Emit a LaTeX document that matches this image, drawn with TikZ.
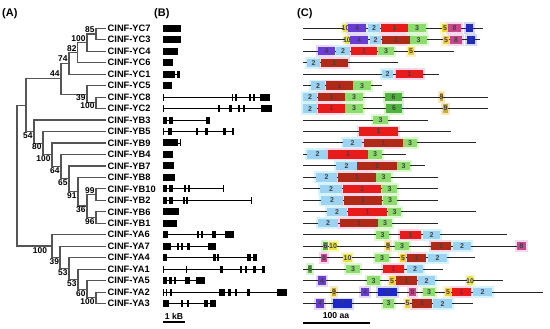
\documentclass[tikz,border=0pt]{standalone}
\usepackage{fontspec}
\setmainfont{Liberation Sans}
\pgfdeclarelayer{background}
\pgfsetlayers{background,main}
\definecolor{treeg}{HTML}{555555}
\definecolor{mR}{HTML}{E81B1B}\definecolor{hR}{HTML}{FBD6E8}
\definecolor{mD}{HTML}{B02A18}\definecolor{hD}{HTML}{FBD6E8}
\definecolor{mL}{HTML}{9CD2F2}\definecolor{hL}{HTML}{D6F4FB}
\definecolor{mG}{HTML}{8CDC6E}\definecolor{hG}{HTML}{E0F7D4}
\definecolor{mP}{HTML}{6A3CD6}\definecolor{hP}{HTML}{E2DAF7}
\definecolor{mY}{HTML}{F0D232}\definecolor{hY}{HTML}{FAF4C8}
\definecolor{mK}{HTML}{50B43C}\definecolor{hK}{HTML}{D8F2D0}
\definecolor{mB}{HTML}{1E28C8}\definecolor{hB}{HTML}{D6D9F5}
\definecolor{mM}{HTML}{C8468C}\definecolor{hM}{HTML}{F8D8EC}
\definecolor{mO}{HTML}{D2AA28}\definecolor{hO}{HTML}{F5E8C0}
\definecolor{mT}{HTML}{EBE63C}\definecolor{hT}{HTML}{F8F7C8}
\newcommand\RY[1]{28.3+11.47*(#1)}
\tikzset{
  tline/.style={draw=treeg, line width=1.2pt},
  leaf/.style={anchor=west, inner sep=1.5pt, font=\bfseries\fontsize{9.3}{10}\selectfont},
  bsv/.style={inner sep=0.3pt, font=\bfseries\fontsize{8.4}{9}\selectfont},
  gline/.style={draw=black, line width=0.9pt},
  exon/.style={fill=black},
  cline/.style={draw=black!85, line width=1pt},
  mlab/.style={inner sep=0pt, font=\bfseries\fontsize{7}{8}\selectfont, text=black!75},
  panel/.style={anchor=west, inner sep=0pt, font=\bfseries\fontsize{11}{12}\selectfont},
  scl/.style={inner sep=0pt, font=\bfseries\fontsize{8.6}{9}\selectfont},
}
\newcommand\gene[3]{%
  \draw[gline] (163,{\RY{#1}}) -- (#2,{\RY{#1}});
  \foreach \a/\b in {#3} {\fill[exon] (\a,{\RY{#1}-3.5}) rectangle (\b,{\RY{#1}+3.5});}
}
\newcommand\prot[2]{\draw[cline] (303,{\RY{#1}}) -- (#2,{\RY{#1}});}
\newcommand\motif[5]{%
  \begin{pgfonlayer}{background}
    \fill[h#4] ({#1-2},{\RY{#3}-6}) rectangle ({#2+2},{\RY{#3}+6});
  \end{pgfonlayer}
  \fill[m#4] (#1,{\RY{#3}-4.2}) rectangle (#2,{\RY{#3}+4.2});
  \node[mlab] at ({(#1+#2)/2},{\RY{#3}}) {#5};
}
\begin{document}
\begin{tikzpicture}[x=1pt,y=-1pt]
\useasboundingbox (0,0) rectangle (550,329);
% panel labels
\node[panel] (pA) at (2,14) {(A)};
\node[panel] (pB) at (154,14) {(B)};
\node[panel] (pC) at (297,14) {(C)};
% leaves
\foreach \n [count=\i from 0] in {YC7,YC3,YC4,YC6,YC1,YC5,YC8,YC2,YB3,YB5,YB9,YB4,YB7,YB8,YB10,YB2,YB6,YB1,YA6,YA7,YA4,YA1,YA5,YA2,YA3}
  \node[leaf] (L\i) at (106,{\RY{\i}}) {CINF-\n};
% internal nodes
\coordinate (c1) at (96,34.03);
\coordinate (c2) at (87,42.64);
\coordinate (c3) at (77.5,52.67);
\coordinate (c4) at (69,63.43);
\coordinate (c5) at (96,102.86);
\coordinate (c6) at (87,94.25);
\coordinate (c7) at (61,78.84);
\coordinate (b9) at (96,194.62);
\coordinate (b8) at (96,217.56);
\coordinate (b7) at (87,206.09);
\coordinate (b6) at (78,191.75);
\coordinate (b5) at (69,178.85);
\coordinate (b4) at (61,166.66);
\coordinate (b3) at (52,154.83);
\coordinate (b2) at (43,143.18);
\coordinate (b1) at (34,131.62);
\coordinate (bc) at (26,105.23);
\coordinate (a6) at (96,297.85);
\coordinate (a5) at (87,289.24);
\coordinate (a4) at (78,279.21);
\coordinate (a3) at (69,268.45);
\coordinate (a2) at (60,257.34);
\coordinate (a1) at (52,246.05);
\coordinate (rt) at (17,175.64);
\draw[tline] (c1) |- (L0.west) (c1) |- (L1.west) (c2) |- (c1) (c2) |- (L2.west)
  (c3) |- (c2) (c3) |- (L3.west) (c4) |- (c3) (c4) |- (L4.west)
  (c5) |- (L6.west) (c5) |- (L7.west) (c6) |- (L5.west) (c6) |- (c5)
  (c7) |- (c4) (c7) |- (c6);
\draw[tline] (b9) |- (L14.west) (b9) |- (L15.west) (b8) |- (L16.west) (b8) |- (L17.west)
  (b7) |- (b9) (b7) |- (b8) (b6) |- (L13.west) (b6) |- (b7) (b5) |- (L12.west) (b5) |- (b6)
  (b4) |- (L11.west) (b4) |- (b5) (b3) |- (L10.west) (b3) |- (b4) (b2) |- (L9.west) (b2) |- (b3)
  (b1) |- (L8.west) (b1) |- (b2) (bc) |- (c7) (bc) |- (b1);
\draw[tline] (a6) |- (L23.west) (a6) |- (L24.west) (a5) |- (L22.west) (a5) |- (a6)
  (a4) |- (L21.west) (a4) |- (a5) (a3) |- (L20.west) (a3) |- (a4) (a2) |- (L19.west) (a2) |- (a3)
  (a1) |- (L18.west) (a1) |- (a2) (rt) |- (bc) (rt) |- (a1);
% bootstrap values
\node[bsv,anchor=south east] (s1) at (95,33) {85};
\node[bsv,anchor=south east] (s2) at (86,42) {100};
\node[bsv,anchor=south east] (s3) at (77,52) {82};
\node[bsv,anchor=south east] (s4) at (68,62) {74};
\node[bsv,anchor=south east] (s5) at (60,77.5) {44};
\node[bsv,anchor=north east] (s6) at (86,94.5) {39};
\node[bsv,anchor=north east] (s7) at (95,102.5) {100};
\node[bsv,anchor=north east] (s8) at (33,132) {54};
\node[bsv,anchor=north east] (s9) at (42,143.5) {80};
\node[bsv,anchor=north east] (s10) at (51,155.5) {100};
\node[bsv,anchor=north east] (s11) at (60,167) {64};
\node[bsv,anchor=north east] (s12) at (68,179.5) {65};
\node[bsv,anchor=north east] (s13) at (77,192) {91};
\node[bsv,anchor=north east] (s14) at (86,206.5) {36};
\node[bsv,anchor=south east] (s15) at (95,194) {99};
\node[bsv,anchor=north east] (s16) at (95,218) {96};
\node[bsv,anchor=north east] (s17) at (47.5,247) {100};
\node[bsv,anchor=north east] (s18) at (59.5,258) {39};
\node[bsv,anchor=north east] (s19) at (68,269) {53};
\node[bsv,anchor=north east] (s20) at (77,280) {53};
\node[bsv,anchor=north east] (s21) at (86,290) {60};
\node[bsv,anchor=north east] (s22) at (95,298.5) {100};
% panel B: gene structures
\gene{0}{163}{163/181}
\gene{1}{163}{163/181}
\gene{2}{163}{163/178}
\gene{3}{163}{163/173}
\gene{4}{179.5}{163/174.5,177/179.5}
\gene{5}{163}{163/172}
\gene{6}{270}{163/164.3,231.7/233.3,235/237.3,249.3/251.3,252.7/255.3,260/270}
\gene{7}{272}{163/164.3,218.3/220,229.3/231.7,238.3/240,242.7/244.7,261/272}
\gene{8}{210}{163/166.5,169.3/172.7,206/210}
\gene{9}{234.3}{163/164.3,168.3/171.7,195.7/198.3,205/207.7,223.3/226,231.7/234.3}
\gene{10}{181}{163/178,179.7/181}
\gene{11}{163}{163/173}
\gene{12}{163}{163/174}
\gene{13}{163}{163/175}
\gene{14}{224}{163/166.5,169.3/172.7,184/186,188/190,222.7/224}
\gene{15}{252}{163/166.5,169.3/172.7,183/184.7,186/188.3,250.7/252}
\gene{16}{163}{163/179}
\gene{17}{163}{163/177}
\gene{18}{234}{163/168.3,196.7/199,201/203.3,212.3/216,225.3/234.3}
\gene{19}{216}{163/171,176.7/179.3,181/183.3,186.7/190,208.3/216}
\gene{20}{257}{163/167.3,213.3/215.7,217.3/219.3,247.3/250.7,253.3/257.3}
\gene{21}{265}{163/164.3,186/187.3,220/223.3,240/242.3,245/247.3,252.7/256,261.7/265}
\gene{22}{205}{163/167.3,169.3/171.7,174/176,185/190,196/205}
\gene{23}{287}{163/164.3,165.7/167.3,170/171.7,219.3/225,228.3/231,235/237.3,247.3/250,276.7/286.7}
\gene{24}{216}{163/169.3,180.7/183.3,186.7/189.3,204.3/207.7,210/216}
\coordinate (kbA) at (163,322);
\coordinate (kbB) at (185,322);
\draw[line width=1.3pt] (kbA) -- (kbB);
\node[scl] (kbt) at (174,316) {1 kB};
% panel C: motifs
\prot{0}{483}\motif{343}{348}{0}{T}{10}\motif{348}{366}{0}{P}{4}\motif{368}{380}{0}{L}{2}\motif{381}{408}{0}{R}{1}\motif{408}{426}{0}{G}{3}\motif{442}{448}{0}{Y}{5}\motif{448}{461}{0}{M}{8}\motif{466}{473}{0}{B}{7}
\prot{1}{480}\motif{345}{349}{1}{T}{10}\motif{350}{368}{1}{P}{4}\motif{370}{381}{1}{L}{2}\motif{382}{410}{1}{D}{1}\motif{410}{427}{1}{G}{3}\motif{443}{449}{1}{Y}{5}\motif{450}{462}{1}{M}{8}\motif{467}{475}{1}{B}{7}
\prot{2}{454}\motif{318}{335}{2}{P}{4}\motif{336}{350}{2}{L}{2}\motif{351}{377}{2}{R}{1}\motif{378}{394}{2}{G}{3}\motif{408}{414}{2}{Y}{5}
\prot{3}{398}\motif{307}{320}{3}{L}{2}\motif{321}{348}{3}{D}{1}
\prot{4}{439}\motif{382}{393}{4}{L}{2}\motif{396}{423}{4}{R}{1}
\prot{5}{382}\motif{311}{325}{5}{L}{2}\motif{326}{353}{5}{D}{1}\motif{353}{371}{5}{G}{3}
\prot{6}{488}\motif{303}{317}{6}{L}{2}\motif{318}{345}{6}{D}{1}\motif{345}{363}{6}{G}{3}\motif{385}{402}{6}{K}{6}\motif{440}{443}{6}{O}{9}
\prot{7}{488}\motif{303}{317}{7}{L}{2}\motif{318}{345}{7}{R}{1}\motif{345}{363}{7}{G}{3}\motif{386}{402}{7}{K}{6}\motif{443}{448}{7}{O}{9}
\prot{8}{428}\motif{373}{388}{8}{G}{3}
\prot{9}{451}\motif{359}{398}{9}{R}{1}
\prot{10}{476}\motif{343}{362}{10}{L}{2}\motif{364}{403}{10}{D}{1}\motif{403}{417}{10}{G}{3}
\prot{11}{406}\motif{307}{328}{11}{L}{2}\motif{328}{368}{11}{R}{1}\motif{368}{382}{11}{G}{3}
\prot{12}{425}\motif{336}{357}{12}{L}{2}\motif{357}{397}{12}{D}{1}\motif{397}{410}{12}{G}{3}
\prot{13}{438}\motif{316}{337}{13}{L}{2}\motif{338}{376}{13}{D}{1}\motif{376}{391}{13}{G}{3}
\prot{14}{438}\motif{320}{342}{14}{L}{2}\motif{343}{381}{14}{R}{1}\motif{382}{397}{14}{G}{3}
\prot{15}{438}\motif{321}{343}{15}{L}{2}\motif{344}{382}{15}{D}{1}\motif{383}{397}{15}{G}{3}
\prot{16}{476}\motif{327}{347}{16}{L}{2}\motif{348}{387}{16}{R}{1}\motif{388}{401}{16}{G}{3}
\prot{17}{438}\motif{318}{338}{17}{L}{2}\motif{340}{378}{17}{D}{1}\motif{378}{392}{17}{G}{3}
\prot{18}{507}\motif{376}{389}{18}{G}{3}\motif{400}{421}{18}{R}{1}\motif{423}{440}{18}{L}{2}
\prot{19}{522}\motif{323}{328}{19}{K}{6}\motif{329}{337}{19}{T}{10}\motif{386}{390}{19}{O}{9}\motif{395}{409}{19}{G}{3}\motif{431}{451}{19}{D}{1}\motif{453}{471}{19}{L}{2}\motif{517}{526}{19}{M}{8}
\prot{20}{475}\motif{321}{327}{20}{M}{8}\motif{343}{352}{20}{T}{10}\motif{375}{389}{20}{G}{3}\motif{400}{406}{20}{Y}{5}\motif{407}{426}{20}{D}{1}\motif{428}{447}{20}{L}{2}
\prot{21}{443}\motif{308}{312}{21}{K}{6}\motif{346}{360}{21}{G}{3}\motif{383}{404}{21}{R}{1}\motif{407}{423}{21}{L}{2}
\prot{22}{503}\motif{318}{326}{22}{P}{4}\motif{367}{380}{22}{G}{3}\motif{389}{395}{22}{Y}{5}\motif{396}{417}{22}{D}{1}\motif{418}{435}{22}{L}{2}\motif{467}{473}{22}{T}{10}
\prot{23}{543}\motif{332}{336}{23}{O}{9}\motif{361}{369}{23}{P}{4}\motif{378}{397}{23}{B}{7}\motif{409}{416}{23}{M}{8}\motif{423}{435}{23}{G}{3}\motif{445}{451}{23}{Y}{5}\motif{452}{471}{23}{R}{1}\motif{473}{492}{23}{L}{2}
\prot{24}{473}\motif{316}{324}{24}{P}{4}\motif{333}{352}{24}{B}{7}\motif{383}{394}{24}{G}{3}\motif{405}{410}{24}{Y}{5}\motif{412}{432}{24}{D}{1}\motif{433}{452}{24}{L}{2}
\coordinate (aaA) at (303,323);
\coordinate (aaB) at (370,323);
\draw[line width=1.3pt] (aaA) -- (aaB);
\node[scl] (aat) at (336,316) {100 aa};
\end{tikzpicture}
\end{document}
